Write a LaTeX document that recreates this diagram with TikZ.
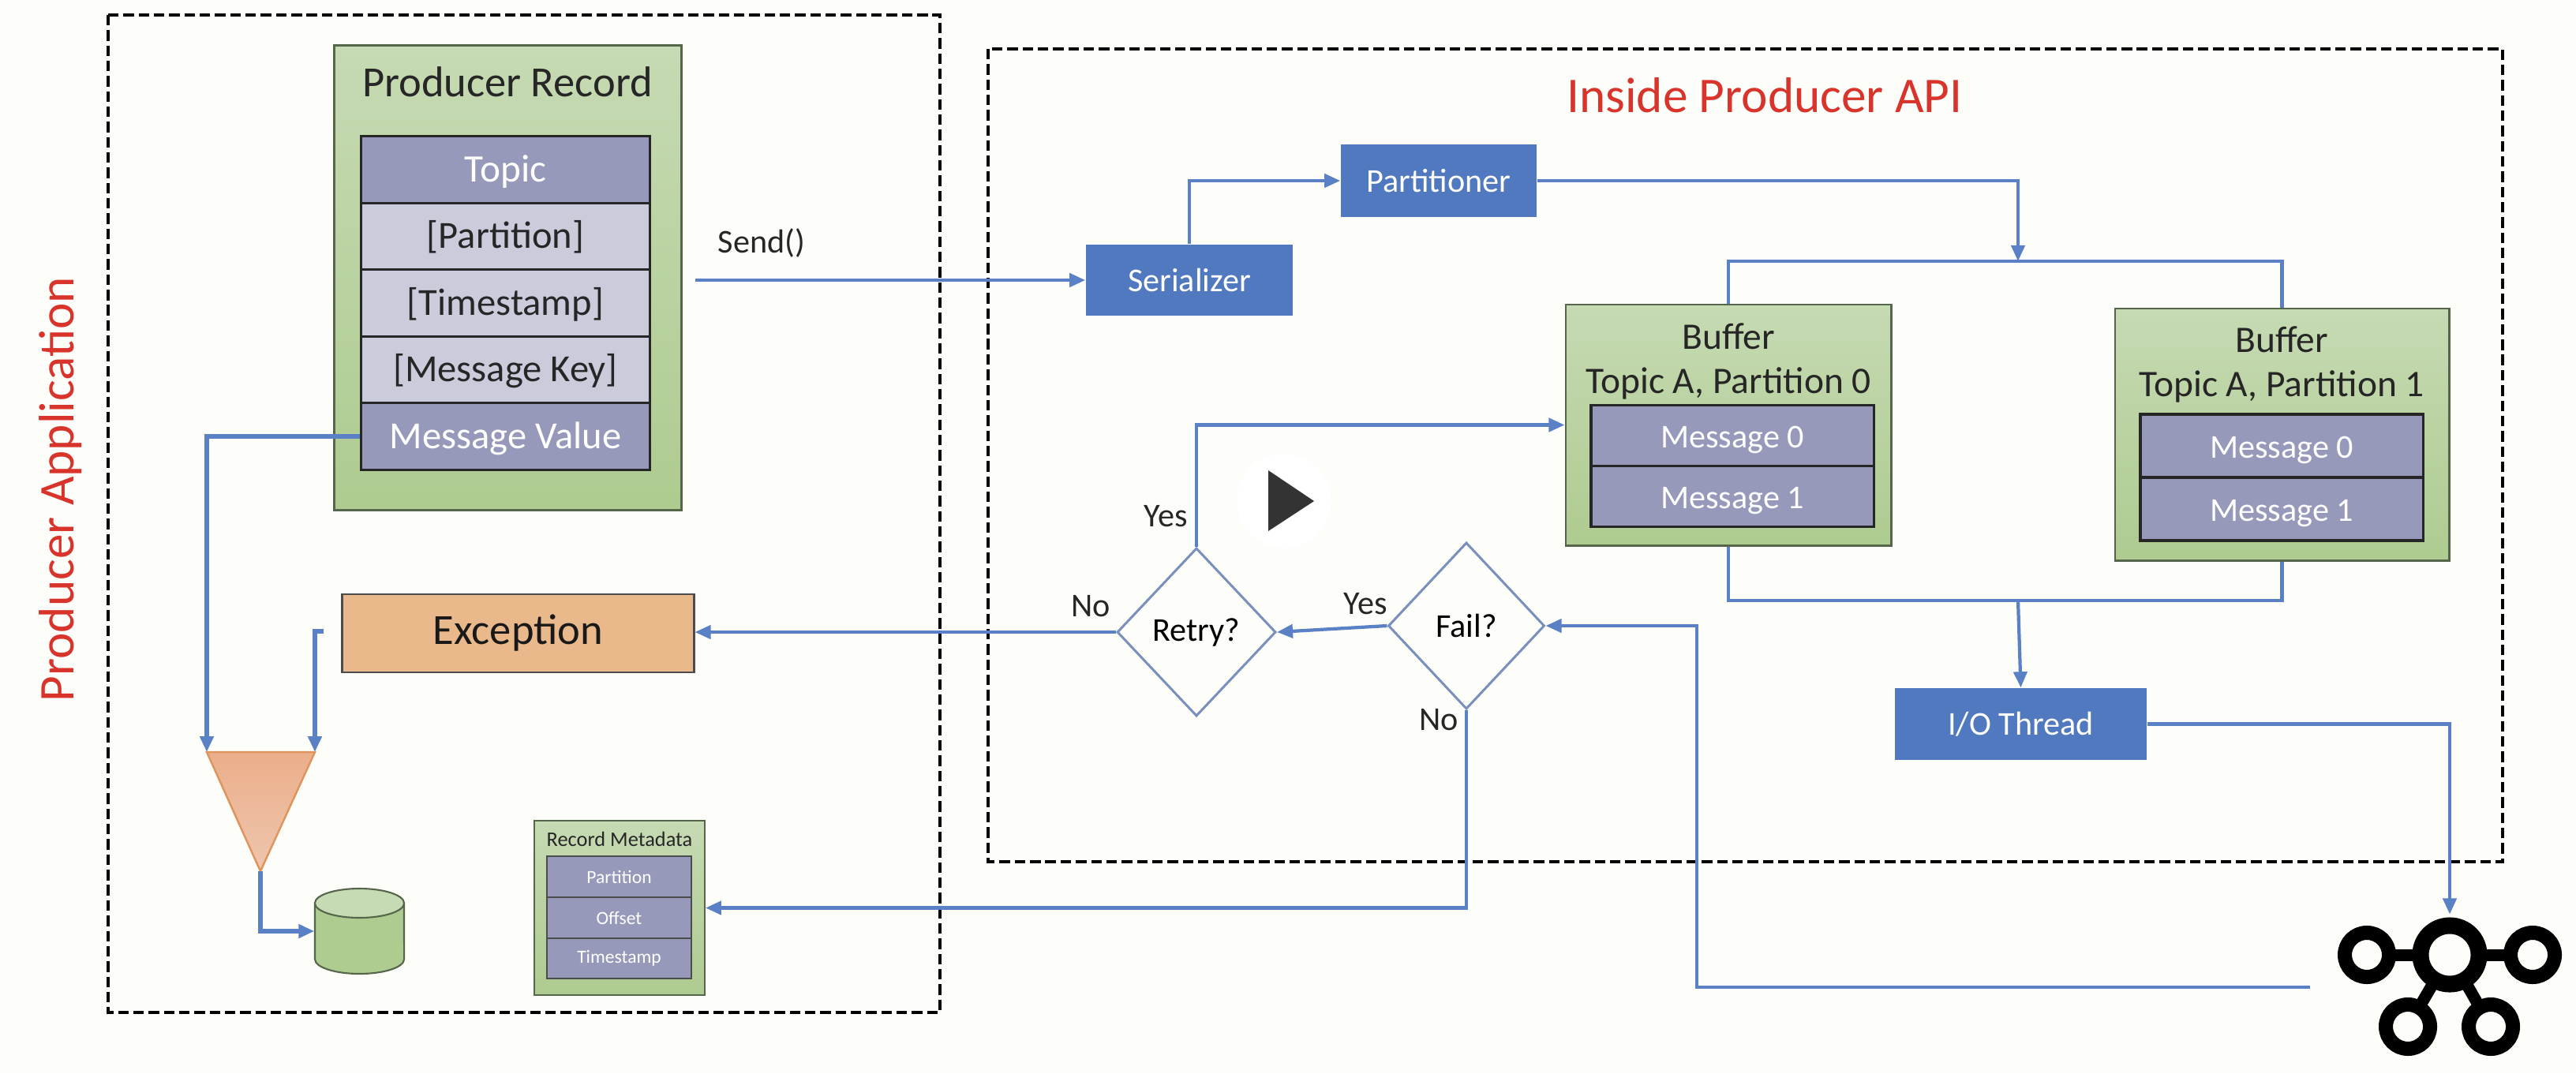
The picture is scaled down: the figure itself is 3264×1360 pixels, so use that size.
\documentclass[tikz,border=0pt]{standalone}
\usepackage{fontspec}
\setmainfont{Carlito}
\usetikzlibrary{arrows.meta,shapes.geometric,positioning}
\definecolor{pagebg}{HTML}{FDFEFA}
\definecolor{linecol}{HTML}{5A80C6}
\definecolor{boxblue}{HTML}{5079C0}
\definecolor{msgcol}{HTML}{9799BB}
\definecolor{optcol}{HTML}{CACCDC}
\definecolor{greentop}{HTML}{C6DAB3}
\definecolor{greenbot}{HTML}{AECB90}
\definecolor{greenline}{HTML}{55664A}
\definecolor{redtext}{HTML}{D9342B}
\definecolor{exccol}{HTML}{E9B98C}
\definecolor{tritop}{HTML}{EBAE8A}
\definecolor{tribot}{HTML}{EEC6AE}
\definecolor{triline}{HTML}{E0935A}
\definecolor{decline}{HTML}{7A90BC}
\tikzset{
  dashbox/.style={black, line width=1.4pt, dash pattern=on 3.8pt off 1.7pt},
  greenbox/.style={draw=greenline, line width=.8pt, top color=greentop, bottom color=greenbot, inner sep=0pt},
  fieldbox/.style={draw=black!85, line width=.9pt, inner sep=0pt, text height=10.4pt, text depth=1.6pt},
  msgbox/.style={fieldbox, fill=msgcol, text=white},
  optbox/.style={fieldbox, fill=optcol, text=black!85},
  metabox/.style={draw=black!70, line width=.5pt, inner sep=0pt, fill=msgcol, text=white, minimum width=1.83cm, minimum height=.515cm, font=\fontsize{6.7}{8}\selectfont},
  bluebox/.style={fill=boxblue, text=white, inner sep=0pt, font=\fontsize{12}{15}\selectfont},
  decide/.style={diamond, draw=decline, line width=.85pt, fill=pagebg, inner sep=0pt, aspect=.95, font=\fontsize{12}{15}\selectfont},
  flow/.style={draw=linecol, line width=1.2pt, -{Triangle[length=.2cm,width=.17cm]}},
  thickflow/.style={flow, line width=1.6pt},
  plainflow/.style={draw=linecol, line width=1.3pt},
  tag/.style={text=black!85, inner sep=0pt, font=\fontsize{12}{15}\selectfont},
  bigtext/.style={font=\fontsize{15.5}{18}\selectfont},
  toptext/.style={font=\fontsize{14}{17}\selectfont},
  midtext/.style={font=\fontsize{13.8}{16}\selectfont},
  buftext/.style={font=\fontsize{13.5}{16}\selectfont},
  msgtext/.style={font=\fontsize{12}{15}\selectfont},
  smalltext/.style={font=\fontsize{7.5}{9}\selectfont},
  kring/.style={circle, draw=black, fill=pagebg, line width=.18cm, minimum size=.56cm, inner sep=0pt},
  kline/.style={draw=black, line width=.15cm, shorten <=-.05cm, shorten >=-.05cm}
}
\begin{document}
\begin{tikzpicture}[x=.01cm,y=-.01cm]
\fill[pagebg] (0,0) rectangle (3264,1360);
\draw[dashbox] (137,19) rectangle (1191,1283);
\draw[dashbox, line width=1.1pt] (1252,62) rectangle (3171,1092);
\node[text=redtext, font=\fontsize{18}{20}\selectfont] (apptitle) at (2236,121){Inside Producer API};
\node[text=redtext, rotate=90, font=\fontsize{18}{20}\selectfont] (prodtitle) at (77,620){Producer Application};
\node[greenbox, minimum width=4.39cm, minimum height=5.88cm] (rec) at (643.5,352){};
\node[bigtext, text=black!85] (rectitle) at (643,104){Producer Record};
\node[msgbox, toptext, minimum width=3.65cm, minimum height=.845cm] (topic) at (640.5,215){Topic};
\node[optbox, midtext, minimum width=3.65cm, minimum height=.845cm] (part) at (640.5,299.5){[Partition]};
\node[optbox, midtext, minimum width=3.65cm, minimum height=.845cm] (stamp) at (640.5,384){[Timestamp]};
\node[optbox, midtext, minimum width=3.65cm, minimum height=.845cm] (key) at (640.5,468.5){[Message Key]};
\node[msgbox, midtext, minimum width=3.65cm, minimum height=.845cm] (value) at (640.5,553){Message Value};
\node[tag] (send) at (965,308){Send()};
\coordinate (sendout) at (881,355);
\node[bluebox, minimum width=2.62cm, minimum height=.9cm] (ser) at (1507,355){Serializer};
\node[bluebox, minimum width=2.48cm, minimum height=.92cm] (partnr) at (1823,229){Partitioner};
\draw[flow](sendout) -- (ser.west);
\draw[flow](ser.north) |- (partnr.west);
\coordinate (bustop) at (2557,331);
\coordinate (busbot) at (2557,761);
\node[greenbox, minimum width=4.12cm, minimum height=3.05cm] (buf0) at (2190,538.5){};
\node[buftext, text=black!85, align=center] (buf0txt) at (2190,458){Buffer\\Topic A, Partition 0};
\node[msgbox, msgtext, minimum width=3.58cm, minimum height=.77cm] (buf0m0) at (2195,552){Message 0};
\node[msgbox, msgtext, minimum width=3.58cm, minimum height=.77cm] (buf0m1) at (2195,629){Message 1};
\node[greenbox, minimum width=4.23cm, minimum height=3.19cm] (buf1) at (2891.5,550.5){};
\node[buftext, text=black!85, align=center] (buf1txt) at (2891,462){Buffer\\Topic A, Partition 1};
\node[msgbox, msgtext, minimum width=3.58cm, minimum height=.8cm] (buf1m0) at (2891,565){Message 0};
\node[msgbox, msgtext, minimum width=3.58cm, minimum height=.8cm] (buf1m1) at (2891,645){Message 1};
\draw[flow](partnr.east) -| (bustop);
\draw[plainflow](buf0.north) |- (bustop) -| (buf1.north);
\draw[plainflow](buf0.south) |- (busbot) -| (buf1.south);
\node[bluebox, minimum width=3.19cm, minimum height=.91cm] (io) at (2560.5,917.5){I/O Thread};
\draw[flow](busbot) -- (io.north);
\node[kring, line width=.21cm, minimum size=.74cm] (kc) at (3104,1210){};
\node[kring] (kl) at (2999,1210){};
\node[kring] (kr) at (3209,1210){};
\node[kring] (kbl) at (3051,1301){};
\node[kring] (kbr) at (3156,1301){};
\draw[kline](kc) -- (kl);
\draw[kline](kc) -- (kr);
\draw[kline](kc) -- (kbl);
\draw[kline](kc) -- (kbr);
\draw[flow, shorten >=.04cm](io.east) -| (kc.north);
\node[decide, minimum width=1.98cm, minimum height=2.11cm] (fail) at (1858,793){Fail?};
\node[decide, minimum width=2.01cm, minimum height=2.13cm] (retry) at (1516,801){Retry?};
\coordinate (kout) at (2927,1251);
\coordinate (turn) at (2150,1000);
\draw[flow](kout) -| (turn) |- (fail.east);
\draw[flow](fail.west) -- (retry.east);
\draw[flow](retry.north) |- (buf0.west);
\node[draw=black!70, line width=.8pt, fill=exccol, inner sep=0pt, minimum width=4.45cm, minimum height=.99cm, bigtext, text=black!90] (exc) at (656.5,802.5){Exception};
\draw[flow](retry.west) -- (retry.west -| exc.east);
\node[greenbox, minimum width=2.16cm, minimum height=2.21cm, line width=.5pt] (meta) at (785,1150.5){};
\node[smalltext, text=black!85] (metatitle) at (785,1063){Record Metadata};
\node[metabox] (metap) at (784.5,1111){Partition};
\node[metabox] (metao) at (784.5,1163){Offset};
\node[metabox] (metat) at (784.5,1214.5){Timestamp};
\draw[flow](fail.south) |- (meta.east);
\coordinate (tl) at (262,953);
\coordinate (tr) at (399,953);
\coordinate (tb) at (330,1104);
\coordinate (excout) at (410,800);
\path[draw=triline, line width=.7pt, top color=tritop, bottom color=tribot] (tl) -- (tr) -- (tb) -- cycle;
\draw[thickflow](value.west) -| (tl);
\draw[thickflow](excout) -| (tr);
\node[inner sep=0pt, minimum width=1.13cm, minimum height=1.08cm] (db) at (455.5,1180){};
\draw[draw=greenline, line width=.6pt, fill=greenbot] (399,1144.5) -- (399,1215.5) arc[start angle=180, end angle=360, x radius=.565cm, y radius=.185cm] -- (512,1144.5) -- cycle;
\draw[draw=greenline, line width=.6pt, fill=greentop] (455.5,1144.5) ellipse[x radius=.565cm, y radius=.185cm];
\draw[thickflow](tb) |- (db.west);
\node[tag] (retryyes) at (1477,654){Yes};
\node[tag] (retryno) at (1382,768){No};
\node[tag] (failyes) at (1730,765){Yes};
\node[tag] (failno) at (1823,912){No};
\node[circle, fill=white, minimum size=1.2cm] (play) at (1627,635){};
\fill[black!80] (1607,596) -- (1607,673) -- (1665,635) -- cycle;
\end{tikzpicture}
\end{document}
